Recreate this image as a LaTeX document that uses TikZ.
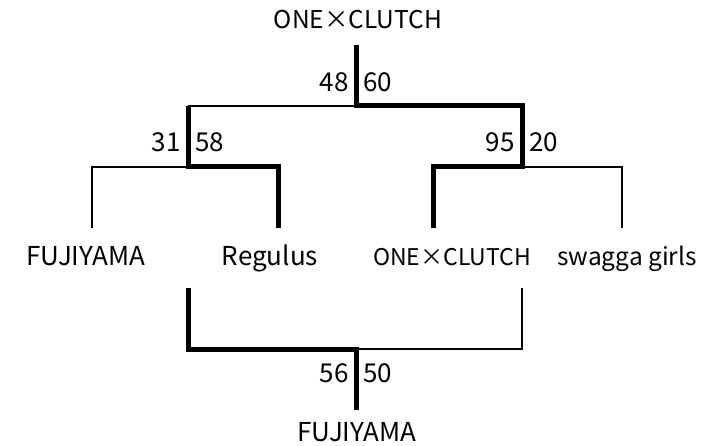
\documentclass[tikz,border=0pt]{standalone}
\usepackage{fontspec}
\setmainfont{Noto Sans CJK JP}
\tikzset{
  thinline/.style={line width=1.5pt},
  thickline/.style={line width=5pt, line join=miter},
  team/.style={anchor=base, inner sep=0pt, font=\fontsize{26}{30}\selectfont},
  score/.style={inner sep=0pt, font=\fontsize{26}{30}\selectfont},
}
\begin{document}
\begin{tikzpicture}[x=1pt,y=-1pt]
  \useasboundingbox (0,0) rectangle (711,446);

  % Junctions of the bracket
  \coordinate (final) at (356,106);
  \coordinate (semiA) at (188,167);
  \coordinate (semiB) at (522,167);
  \coordinate (third) at (356,349);

  % Ends of the lines
  \coordinate (topEnd) at (356,45);
  \coordinate (legA) at (92,228);
  \coordinate (legB) at (278,228);
  \coordinate (legC) at (433,228);
  \coordinate (legD) at (622,228);
  \coordinate (lowA) at (188,288);
  \coordinate (lowB) at (522,288);
  \coordinate (lowEnd) at (356,410);

  % Team names
  \node [team, font=\fontsize{24.5}{28}\selectfont] (champ) at (358,29) {ONE×CLUTCH};
  \node [team] (fujiyama) at (86,265) {FUJIYAMA};
  \node [team] (regulus) at (270,265) {Regulus};
  \node [team, font=\fontsize{23}{27}\selectfont] (oneclutch) at (452,265) {ONE×CLUTCH};
  \node [team, font=\fontsize{24.5}{28}\selectfont] (swagga) at (627,265) {swagga girls};
  \node [team] (bronze) at (357,441) {FUJIYAMA};

  % Drawing the losing lines
  \draw [thinline] (legA) |- (semiA);
  \draw [thinline] (legD) |- (semiB);
  \draw [thinline] (semiA |- final) -- (final);
  \draw [thinline] (lowB) |- (third);

  % Drawing the winning lines
  \draw [thickline] (legB) |- (semiA) -- (semiA |- final);
  \draw [thickline] (legC) |- (semiB) -- (semiB |- final) -| (topEnd);
  \draw [thickline] (lowA) |- (third) -- (lowEnd);

  % Scores
  \node [score, anchor=base east] (s48) at (349,92) {48};
  \node [score, anchor=base west] (s60) at (363,92) {60};
  \node [score, anchor=base east] (s31) at (181,152) {31};
  \node [score, anchor=base west] (s58) at (195,152) {58};
  \node [score, anchor=base east] (s95) at (515,152) {95};
  \node [score, anchor=base west] (s20) at (529,152) {20};
  \node [score, anchor=base east] (s56) at (349,382) {56};
  \node [score, anchor=base west] (s50) at (363,382) {50};
\end{tikzpicture}
\end{document}
